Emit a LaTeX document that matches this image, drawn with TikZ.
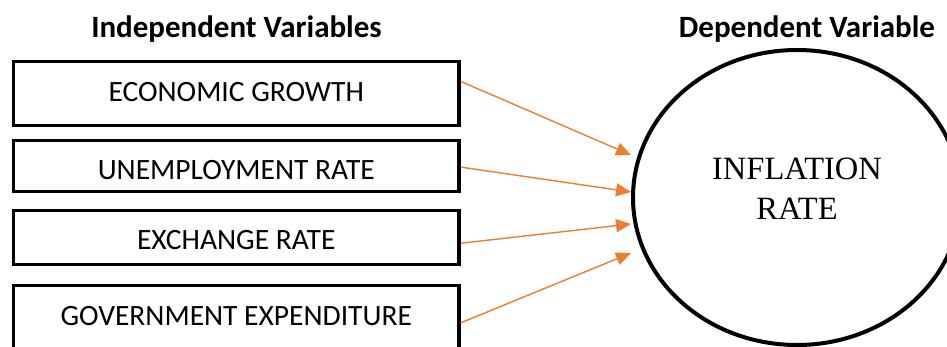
\documentclass[tikz,border=0pt]{standalone}
\usepackage{fontspec}
\setmainfont{Carlito}
\newfontfamily\serifrm{Liberation Serif}
\usetikzlibrary{shapes.geometric,arrows.meta,calc}
\definecolor{arrorange}{RGB}{237,125,49}
\tikzset{
  varbox/.style={draw=black,line width=3.3pt,minimum width=445.5pt,inner sep=0pt},
  boxtext/.style={anchor=base,inner sep=0pt,font=\fontsize{29.5}{34}\selectfont},
  titletext/.style={anchor=base,inner sep=0pt,font=\fontsize{31}{36}\selectfont\bfseries},
  link/.style={draw=arrorange,line width=1.4pt,-{Triangle[length=15pt,width=13pt]}},
}
\begin{document}
\begin{tikzpicture}[x=1pt,y=-1pt]
\useasboundingbox[fill=white] (0,0) rectangle (947,347);
% titles
\node[titletext] (ti) at (236.5,38) {Independent Variables};
\node[titletext] (td) at (807,38) {Dependent Variable};
% boxes
\node[varbox,minimum height=64pt] (b1) at (236.25,93.5) {};
\node[varbox,minimum height=51pt] (b2) at (236.25,166) {};
\node[varbox,minimum height=54pt] (b3) at (236.25,237.5) {};
\node[varbox,minimum height=64pt] (b4) at (236.25,317.5) {};
\node[boxtext] (t1) at (236.25,102) {ECONOMIC GROWTH};
\node[boxtext] (t2) at (236.25,180) {UNEMPLOYMENT RATE};
\node[boxtext] (t3) at (236.25,250) {EXCHANGE RATE};
\node[boxtext] (t4) at (236.25,325) {GOVERNMENT EXPENDITURE};
% ellipse
\node[draw=black,ellipse,line width=4pt,minimum width=328pt,minimum height=295pt,inner sep=0pt] (c) at (797,197.5) {};
\node[anchor=base,inner sep=0pt,font=\serifrm\fontsize{32.5}{36}\selectfont] (ci1) at (797,180) {INFLATION};
\node[anchor=base,inner sep=0pt,font=\serifrm\fontsize{32.5}{36}\selectfont] (ci2) at (797,220) {RATE};
% arrow targets
\coordinate (e1) at ($(c.west)+(0,-42.5)$);
\coordinate (e2) at ($(c.west)+(0,-5.5)$);
\coordinate (e3) at ($(c.west)+(0,26.5)$);
\coordinate (e4) at ($(c.west)+(0,55.5)$);
% arrows
\draw[link] ($(b1.north east)!0.32!(b1.south east)$) -- (e1);
\draw[link] ($(b2.north east)!0.52!(b2.south east)$) -- (e2);
\draw[link] ($(b3.north east)!0.60!(b3.south east)$) -- (e3);
\draw[link] ($(b4.north east)!0.58!(b4.south east)$) -- (e4);
\end{tikzpicture}
\end{document}
